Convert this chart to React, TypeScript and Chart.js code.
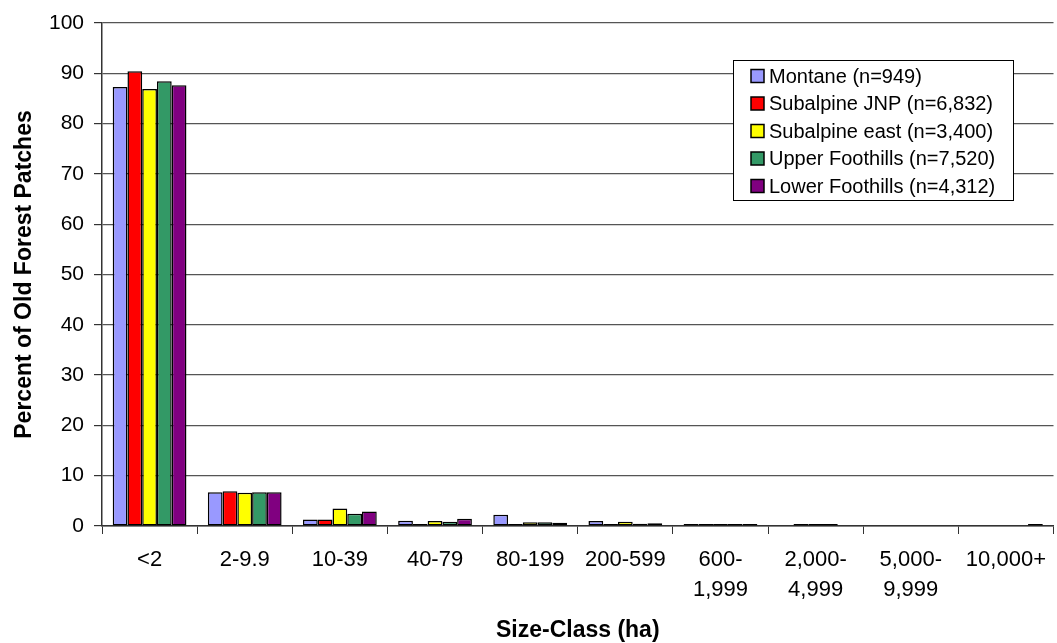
import React, { useEffect, useRef } from "react";
import { Chart, registerables } from "chart.js";

Chart.register(...registerables);

const categories: string[][] = [
  ["<2"],
  ["2-9.9"],
  ["10-39"],
  ["40-79"],
  ["80-199"],
  ["200-599"],
  ["600-", "1,999"],
  ["2,000-", "4,999"],
  ["5,000-", "9,999"],
  ["10,000+"],
];

const seriesNames = [
  "Montane (n=949)",
  "Subalpine JNP (n=6,832)",
  "Subalpine east (n=3,400)",
  "Upper Foothills (n=7,520)",
  "Lower Foothills (n=4,312)",
];

const montane = [87.3, 6.7, 1.3, 1.05, 2.25, 1.0, 0.4, null, null, null];
const subalpineJNP = [90.4, 6.9, 1.3, 0.2, 0.1, 0.3, 0.1, 0.1, null, null];
const subalpineEast = [86.9, 6.6, 3.5, 1.0, 0.75, 0.85, 0.25, 0.05, null, null];
const upperFoothills = [88.4, 6.7, 2.45, 0.85, 0.75, 0.45, 0.1, 0.05, null, null];
const lowerFoothills = [87.6, 6.7, 2.9, 1.45, 0.65, 0.55, 0.1, null, null, 0.05];

const seriesColors = ["#9999FF", "#FF0000", "#FFFF00", "#339966", "#800080"];

const yTicks = [0, 10, 20, 30, 40, 50, 60, 70, 80, 90, 100];

const FONT = "'Liberation Sans', Arial, Helvetica, sans-serif";

const legendPlugin = {
  id: "boxLegend",
  afterDraw(chart: any) {
    const ctx = chart.ctx;
    const left = 733;
    const top = 60;
    const w = 280;
    const h = 140;
    ctx.save();
    ctx.fillStyle = "#ffffff";
    ctx.fillRect(left, top, w, h);
    ctx.strokeStyle = "#000000";
    ctx.lineWidth = 1;
    ctx.strokeRect(left + 0.5, top + 0.5, w, h);
    ctx.font = `20px ${FONT}`;
    ctx.textBaseline = "middle";
    ctx.textAlign = "left";
    chart.data.datasets.forEach((ds: any, i: number) => {
      const cy = top + 16 + i * 27.5;
      ctx.fillStyle = ds.backgroundColor;
      ctx.fillRect(751, cy - 6.5, 13, 13);
      ctx.strokeStyle = "#000";
      ctx.lineWidth = 1.5;
      ctx.strokeRect(751, cy - 6.5, 13, 13);
      ctx.fillStyle = "#000";
      ctx.fillText(ds.label, 769, cy + 1);
    });
    ctx.restore();
  },
};

export default function App() {
  const ref = useRef<HTMLCanvasElement | null>(null);
  useEffect(() => {
    if (!ref.current) return;
    const values = [montane, subalpineJNP, subalpineEast, upperFoothills, lowerFoothills];
    const chart = new Chart(ref.current, {
      type: "bar",
      data: {
        labels: categories,
        datasets: values.map((v, i) => ({
          label: seriesNames[i],
          data: v,
          backgroundColor: seriesColors[i],
          borderColor: "#000000",
          borderWidth: 1.5,
          borderSkipped: false,
          minBarLength: 2,
          categoryPercentage: 0.775,
          barPercentage: 1.0,
        })),
      },
      options: {
        animation: false,
        responsive: true,
        maintainAspectRatio: false,
        layout: { padding: { top: 23, right: 0, left: 0, bottom: 0 } },
        plugins: {
          legend: { display: false },
          tooltip: { enabled: false },
        },
        scales: {
          x: {
            offset: true,
            afterFit: (scale: any) => {
              scale.height = 117;
            },
            grid: {
              offset: true,
              drawOnChartArea: false,
              drawTicks: true,
              tickLength: 8,
              color: "#333",
            },
            border: { display: true, color: "#333", width: 1.5 },
            ticks: {
              color: "#000",
              font: { family: FONT, size: 22, lineHeight: 1.36 },
              padding: 11,
              maxRotation: 0,
              autoSkip: false,
            },
            title: {
              display: true,
              text: "Size-Class (ha)",
              color: "#000",
              font: { family: FONT, size: 23, weight: "bold", lineHeight: 1.0 },
              padding: { top: 0, bottom: 0.5 },
            },
          },
          y: {
            min: 0,
            max: 100,
            afterFit: (scale: any) => {
              scale.width = 102;
            },
            afterBuildTicks: (scale: any) => {
              scale.ticks = yTicks.map((v) => ({ value: v }));
            },
            grid: {
              color: "#555",
              lineWidth: 1.2,
              drawTicks: true,
              tickLength: 8,
              tickColor: "#333",
            },
            border: { display: true, color: "#333", width: 1.5 },
            ticks: {
              color: "#000",
              font: { family: FONT, size: 21 },
              padding: 10,
            },
            title: {
              display: true,
              text: "Percent of Old Forest Patches",
              color: "#000",
              font: { family: FONT, size: 23, weight: "bold", lineHeight: 1.2 },
              padding: { top: 11, bottom: 0 },
            },
          },
        },
      },
      plugins: [legendPlugin],
    });
    return () => chart.destroy();
  }, []);
  return (
    <div style={{ position: "absolute", left: 0, top: 0, width: 1057, height: 643, background: "#fff" }}>
      <canvas ref={ref} style={{ display: "block" }} />
    </div>
  );
}
